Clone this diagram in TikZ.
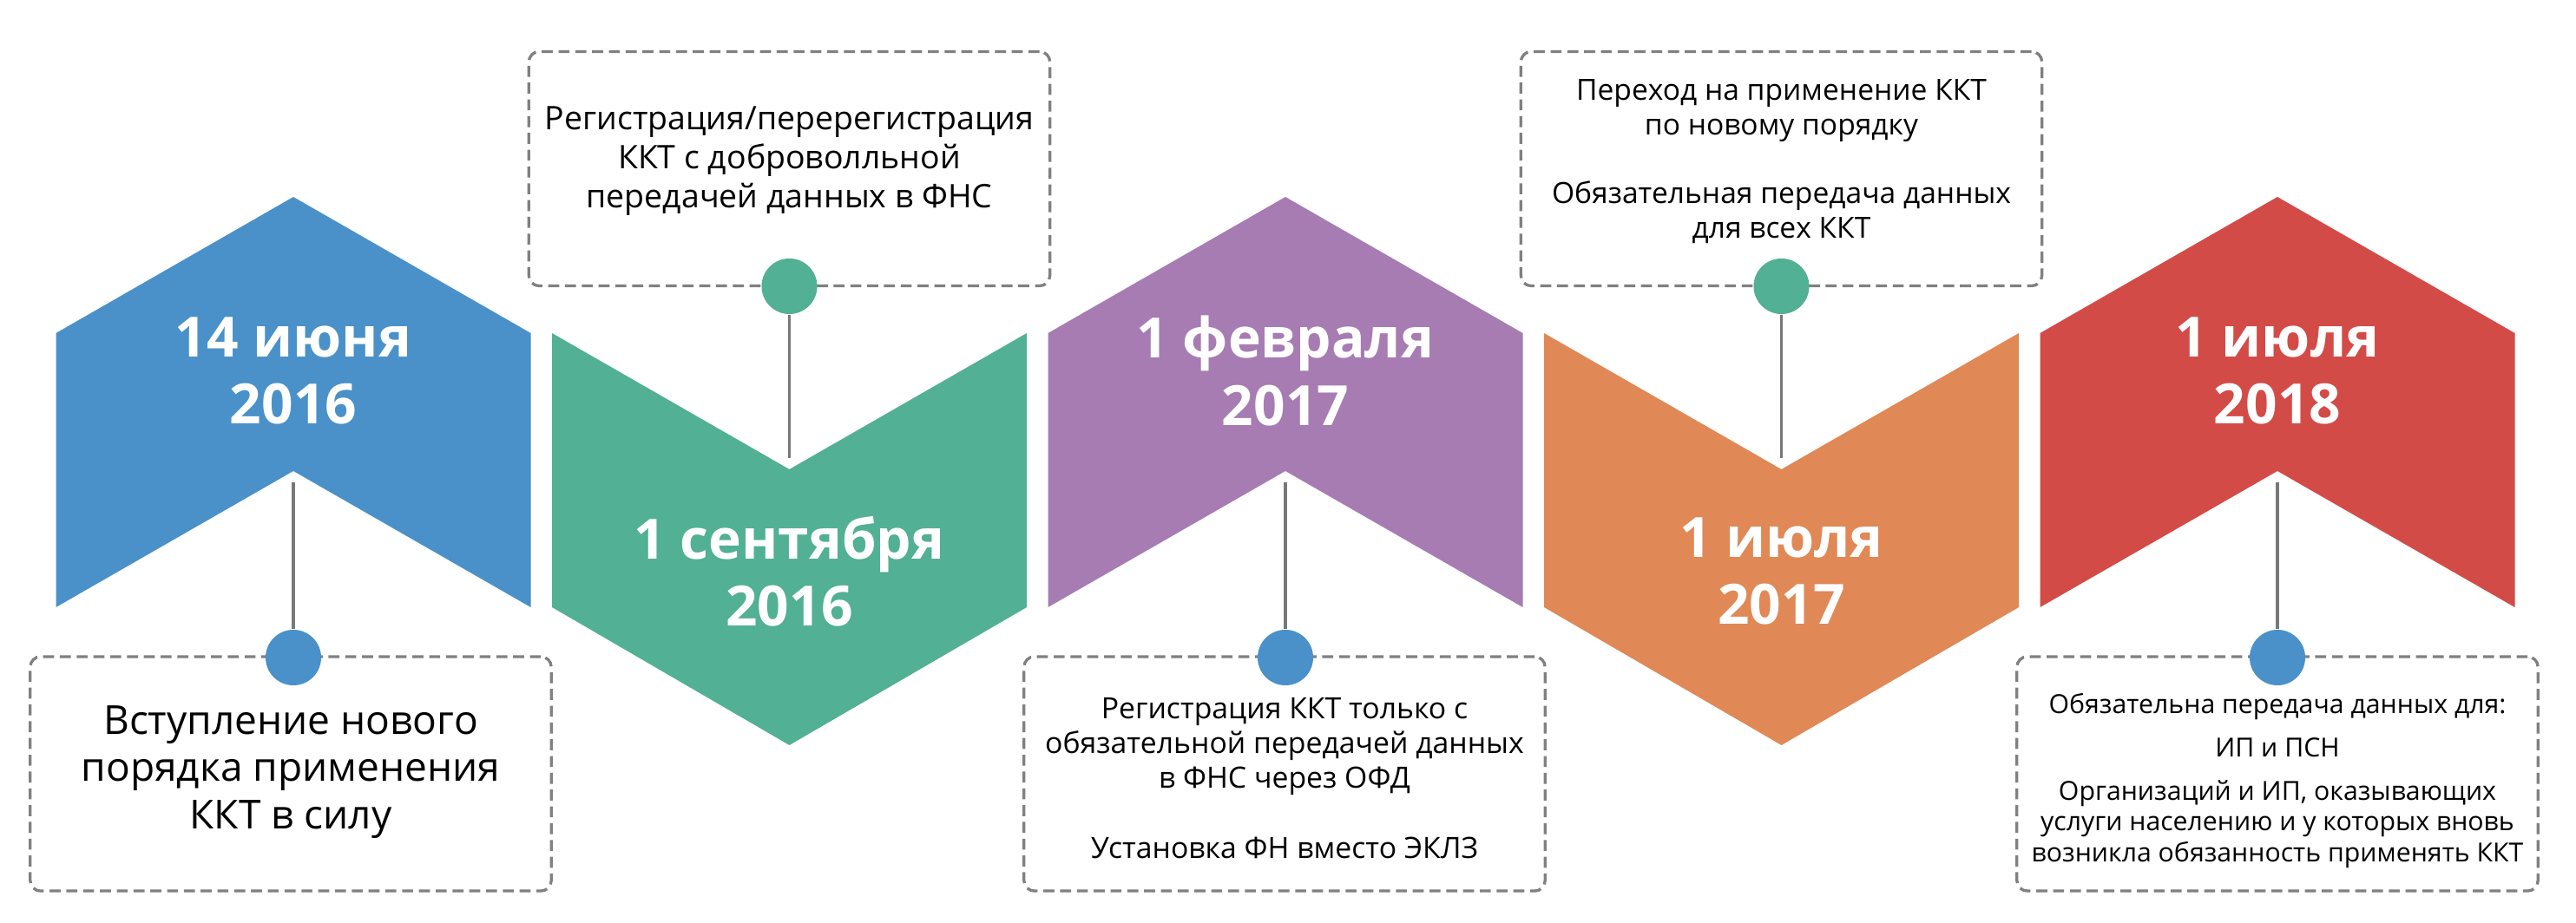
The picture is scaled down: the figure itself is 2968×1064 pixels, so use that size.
\documentclass[tikz,border=0pt]{standalone}
\usepackage{fontspec}
\setmainfont{Open Sans}
\usetikzlibrary{positioning}

\definecolor{cblue}{HTML}{4A91C9}
\definecolor{cgreen}{HTML}{52B094}
\definecolor{cpurple}{HTML}{A67CB3}
\definecolor{corange}{HTML}{E08856}
\definecolor{cred}{HTML}{D34B47}
\definecolor{cline}{HTML}{787878}
\definecolor{cdash}{HTML}{808080}

% chevron pointing up / down, #1 = centre x, #2 = colour
\newcommand{\chevup}[2]{\fill[#2] (#1,227) -- (#1+273.5,384) -- (#1+273.5,700) -- (#1,543) -- (#1-273.5,700) -- (#1-273.5,384) -- cycle;}
\newcommand{\chevdown}[2]{\fill[#2] (#1-273.5,384) -- (#1,541) -- (#1+273.5,384) -- (#1+273.5,700) -- (#1,859) -- (#1-273.5,700) -- cycle;}

\tikzset{
  notebox/.style={draw=cdash, line width=0.94pt, dash pattern=on 3.6pt off 1.9pt,
    rounded corners=3.4pt, minimum width=6cm, minimum height=2.7cm, inner sep=0pt},
  markdot/.style={circle, inner sep=0pt, minimum size=0.64cm},
  stemline/.style={draw=cline, line width=0.94pt},
  datetext/.style={text=white, font=\bfseries\fontsize{18.2}{22}\selectfont, align=center, inner sep=0pt},
  notetext/.style={align=center, inner sep=0pt},
}

\begin{document}
\begin{tikzpicture}[x=0.01cm, y=-0.01cm]
  \useasboundingbox (0,0) rectangle (2968,1064);

  % chevrons
  \chevup{338}{cblue}
  \chevdown{909.5}{cgreen}
  \chevup{1481}{cpurple}
  \chevdown{2052.5}{corange}
  \chevup{2624}{cred}

  % dates
  \node[datetext] (d1) at (338,427.5) {14 июня\\2016};
  \node[datetext] (d2) at (909.5,658.5) {1 сентября\\2016};
  \node[datetext] (d3) at (1481,427.5) {1 февраля\\2017};
  \node[datetext] (d4) at (2052.5,658.5) {1 июля\\2017};
  \node[datetext] (d5) at (2624,427.5) {1 июля\\2018};

  % note boxes
  \node[notebox] (b1) at (335,892) {};
  \node[notebox] (b2) at (909.5,194.5) {};
  \node[notebox] (b3) at (1480,892) {};
  \node[notebox] (b4) at (2052.5,194.5) {};
  \node[notebox] (b5) at (2624,892) {};

  % stems and dots
  \coordinate (n1) at (338,556);
  \coordinate (n2) at (909.5,528);
  \coordinate (n3) at (1481,556);
  \coordinate (n4) at (2052.5,528);
  \coordinate (n5) at (2624,556);
  \node[markdot, fill=cblue] (p1) at (338,758) {};
  \node[markdot, fill=cgreen] (p2) at (909.5,330) {};
  \node[markdot, fill=cblue] (p3) at (1481,758) {};
  \node[markdot, fill=cgreen] (p4) at (2052.5,330) {};
  \node[markdot, fill=cblue] (p5) at (2624,758) {};
  \draw[stemline] (p1) -- (n1);
  \draw[stemline] (p2) -- (n2);
  \draw[stemline] (p3) -- (n3);
  \draw[stemline] (p4) -- (n4);
  \draw[stemline] (p5) -- (n5);

  % texts
  \node[notetext, font=\fontsize{13.1}{15.6}\selectfont] (t1) at (335,890)
    {Вступление нового\\порядка применения\\ККТ в силу};
  \node[notetext, font=\fontsize{10.65}{12.8}\selectfont] (t2) at (909.5,186)
    {Регистрация/перерегистрация\\ККТ с доброволльной\\передачей данных в ФНС};
  \node[notetext, font=\fontsize{9.6}{11.4}\selectfont] (t3) at (1480,897)
    {Регистрация ККТ только с\\обязательной передачей данных\\в ФНС через ОФД\\[11.4pt]Установка ФН вместо ЭКЛЗ};
  \node[notetext, font=\fontsize{9.55}{11.3}\selectfont] (t4) at (2052.5,186)
    {Переход на применение ККТ\\по новому порядку\\[11.3pt]Обязательная передача данных\\для всех ККТ};
  \node[notetext, font=\fontsize{8.6}{10.2}\selectfont] (t5) at (2624,900)
    {Обязательна передача данных для:\\[4pt]ИП и ПСН\\[4pt]Организаций и ИП, оказывающих\\услуги населению и у которых вновь\\возникла обязанность применять ККТ};
\end{tikzpicture}
\end{document}
